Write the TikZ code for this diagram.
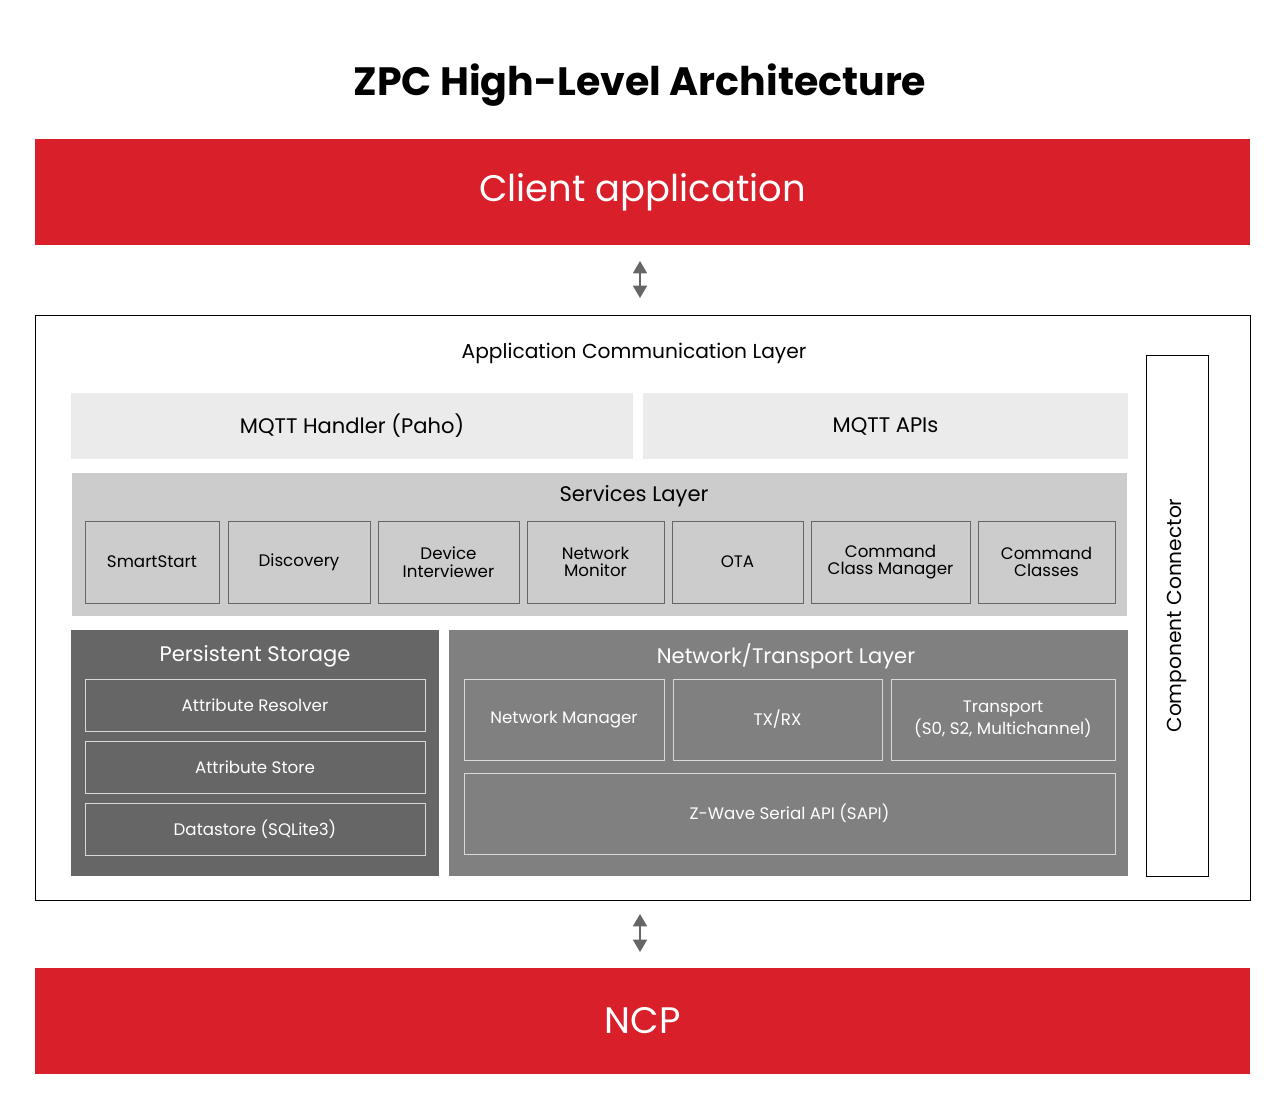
\documentclass[tikz,border=0pt]{standalone}
\usepackage{fontspec}
\setmainfont{Poppins}
\usetikzlibrary{arrows.meta}
\definecolor{zred}{HTML}{D91F2A}
\definecolor{lgray}{HTML}{EBEBEB}
\definecolor{mgray}{HTML}{CCCCCC}
\definecolor{dgray}{HTML}{666666}
\definecolor{ngray}{HTML}{808080}
\definecolor{agray}{HTML}{666666}
\tikzset{
  sz/.style 2 args = {minimum width=#1*0.02cm, minimum height=#2*0.02cm, inner sep=0pt, align=center},
  redbox/.style = {fill=zred, text=white, font=\fontsize{21}{25}\selectfont},
  layer/.style = {draw=none, font=\fontsize{12}{14}\selectfont},
  svc/.style = {fill=mgray, draw=black!60, font=\fontsize{9.5}{10}\selectfont},
  inner/.style = {draw=white!85!black, text=white, font=\fontsize{9.5}{10}\selectfont},
  updown/.style = {{Triangle[width=8pt,length=7pt]}-{Triangle[width=8pt,length=7pt]}, agray, line width=0.8pt},
}
\begin{document}
\begin{tikzpicture}[x=0.02cm, y=-0.02cm]
  \useasboundingbox[fill=white] (0,0) rectangle (1280,1113);
  \node (title) at (640,85) {\fontsize{22.5}{26}\selectfont\bfseries ZPC High-Level Architecture};

  \node[redbox, sz={1215}{106}] (client) at (642.5,192) {Client application};
  \node[draw=black, sz={1215}{585}] (zpc) at (642.5,607.5) {};
  \node[redbox, sz={1215}{106}] (ncp) at (642.5,1021) {NCP};

  \coordinate (a1) at (640,261);
  \coordinate (a2) at (640,298);
  \draw[updown] (a1) -- (a2);
  \coordinate (b1) at (640,914);
  \coordinate (b2) at (640,952);
  \draw[updown] (b1) -- (b2);

  \node[font=\fontsize{11.5}{14}\selectfont] (acl) at (634,353) {Application Communication Layer};

  % MQTT row
  \node[layer, fill=lgray, sz={562}{66}] (mqtth) at (352,426) {MQTT Handler (Paho)};
  \node[layer, fill=lgray, sz={485}{66}] (mqtta) at (885.5,426) {MQTT APIs};

  % services
  \node[fill=mgray, sz={1055}{143}] (svcl) at (599.5,544.5) {};
  \node[layer] (svct) at (634,496) {Services Layer};
  \node[svc, sz={134}{82}] (ss) at (152,562) {SmartStart};
  \node[svc, sz={142}{82}] (disc) at (299,562) {Discovery};
  \node[svc, sz={141}{82}] (di) at (448.5,562) {Device\\Interviewer};
  \node[svc, sz={137}{82}] (nm) at (595.5,562) {Network\\Monitor};
  \node[svc, sz={131}{82}] (ota) at (737.5,562) {OTA};
  \node[svc, sz={159}{82}] (ccm) at (890.5,562) {Command\\Class Manager};
  \node[svc, sz={137}{82}] (cc) at (1046.5,562) {Command\\Classes};

  % persistent storage
  \node[fill=dgray, sz={368}{246}] (ps) at (255,753) {};
  \node[layer, text=white] (pst) at (255,656) {Persistent Storage};
  \node[inner, sz={340}{52}] (ar) at (255,705) {Attribute Resolver};
  \node[inner, sz={340}{52}] (as) at (255,767) {Attribute Store};
  \node[inner, sz={340}{52}] (ds) at (255,829) {Datastore (SQLite3)};

  % network / transport
  \node[fill=ngray, sz={679}{246}] (ntl) at (788.5,753) {};
  \node[layer, text=white] (ntlt) at (786,656) {Network/Transport Layer};
  \node[inner, sz={200}{81}] (netm) at (564,719.5) {Network Manager};
  \node[inner, sz={209}{81}] (txrx) at (777.5,719.5) {TX/RX};
  \node[inner, sz={224}{81}] (tr) at (1003,719.5) {Transport\\(S0, S2, Multichannel)};
  \node[inner, sz={651}{81}] (sapi) at (789.5,813.5) {Z-Wave Serial API (SAPI)};

  % component connector
  \node[draw=black, fill=white, sz={62}{521}] (comp) at (1177,615.5) {};
  \node[rotate=90, font=\fontsize{11.5}{14}\selectfont] (compt) at (comp.center) {Component Connector};
\end{tikzpicture}
\end{document}
